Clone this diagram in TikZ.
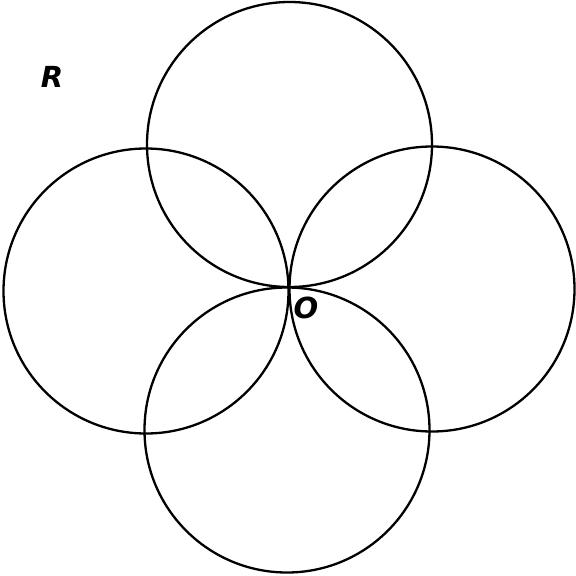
\documentclass[tikz,border=0pt]{standalone}
\usepackage{fontspec}
\setsansfont{DejaVu Sans}
\begin{document}
\begin{tikzpicture}[x=1pt,y=-1pt,
  ring/.style={draw=black,line width=2.3pt},
  lbl/.style={font=\sffamily\bfseries\itshape\fontsize{29}{29}\selectfont,inner sep=0pt}]
\useasboundingbox (0,0) rectangle (576,576);
\coordinate (O) at (289,287);
\coordinate (ct) at (289.5,144.5);
\coordinate (cl) at (146,291);
\coordinate (cr) at (432,289);
\coordinate (cb) at (287,430);
\draw[ring] (ct) circle[radius=142.5];
\draw[ring] (cl) circle[radius=142.5];
\draw[ring] (cr) circle[radius=142.5];
\draw[ring] (cb) circle[radius=142.5];
\node[lbl] (R) at (52,77) {R};
\node[lbl] (Olbl) at (306,308) {O};
\end{tikzpicture}
\end{document}
